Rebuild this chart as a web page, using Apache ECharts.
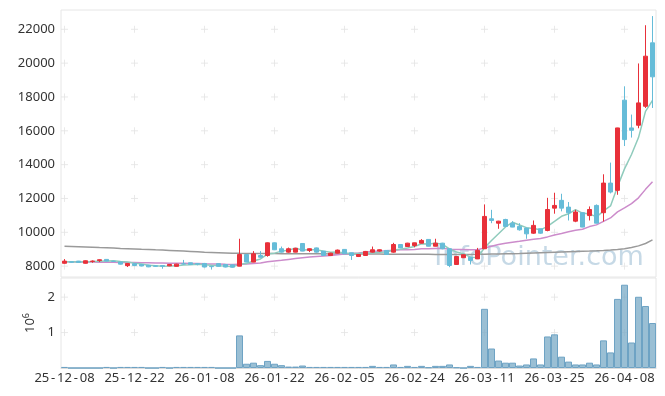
<!DOCTYPE html>
<html><head><meta charset="utf-8">
<script src="https://cdn.jsdelivr.net/npm/echarts@6/dist/echarts.min.js"></script>
<style>html,body{margin:0;padding:0;background:#fff}#c{width:665px;height:396px}</style>
</head><body><div id="c"></div>
<script>
const dates = ['25-12-08','25-12-09','25-12-10','25-12-11','25-12-12','25-12-15','25-12-16','25-12-17','25-12-18','25-12-19',
'25-12-22','25-12-23','25-12-24','25-12-26','25-12-29','25-12-30','26-01-02','26-01-05','26-01-06','26-01-07',
'26-01-08','26-01-09','26-01-12','26-01-13','26-01-14','26-01-15','26-01-16','26-01-19','26-01-20','26-01-21',
'26-01-22','26-01-23','26-01-26','26-01-27','26-01-28','26-01-29','26-01-30','26-02-02','26-02-03','26-02-04',
'26-02-05','26-02-06','26-02-09','26-02-10','26-02-11','26-02-12','26-02-13','26-02-19','26-02-20','26-02-23',
'26-02-24','26-02-25','26-02-26','26-02-27','26-03-03','26-03-04','26-03-05','26-03-06','26-03-09','26-03-10',
'26-03-11','26-03-12','26-03-13','26-03-16','26-03-17','26-03-18','26-03-19','26-03-20','26-03-23','26-03-24',
'26-03-25','26-03-26','26-03-27','26-03-30','26-03-31','26-04-01','26-04-02','26-04-03','26-04-06','26-04-07',
'26-04-08','26-04-09','26-04-10','26-04-13','26-04-14'];

const opens = [8170,8260,8300,8170,8280,8330,8400,8290,8250,8030,
8150,8100,8060,8020,8040,8020,7990,8140,8200,8150,
8160,7990,8150,8100,8080,8000,8690,8240,8630,8630,
9380,9030,8830,8830,9340,8930,9080,8890,8630,8770,
8990,8790,8570,8630,8830,8890,8930,8830,9280,9160,
9220,9360,9580,9180,9360,9030,8100,8500,8530,8430,
9030,10800,10540,10760,10540,10350,10250,9950,10210,10110,
11430,11890,11490,10660,11160,10990,11590,11160,12910,12480,
17810,16170,16330,17450,21200];
const closes = [8300,8230,8220,8320,8300,8380,8300,8280,8120,8160,
8040,8010,7960,7990,7990,8100,8120,8130,8100,8120,
7950,7970,7990,7950,7940,8690,8240,8730,8530,9380,
8970,8830,9030,9060,8890,9030,8830,8630,8770,8950,
8730,8630,8690,8870,8970,8970,8690,9280,9080,9360,
9380,9520,9180,9360,9030,8040,8570,8675,8340,8930,
10940,10700,10660,10350,10310,10150,9910,10410,9950,11350,
11590,11430,11160,11200,10310,11350,10540,12910,12380,16170,
15480,16030,17650,20410,19190];
const lows = [8150,8200,8200,8150,8200,8250,8290,8260,8100,7950,
8000,7990,7940,7960,7850,8000,7980,8100,8080,8050,
7930,7800,7980,7930,7920,7990,8230,8230,8500,8560,
8950,8800,8800,8820,8880,8830,8800,8600,8600,8750,
8720,8370,8540,8620,8800,8850,8680,8800,9060,9140,
9120,9350,9170,9170,9000,7940,8090,8480,8100,8420,
9020,10540,10210,10340,10300,10100,9620,9910,9910,10060,
11100,11240,10700,10600,10300,10700,10530,10640,12300,12220,
15100,15600,16150,17350,17350];
const highs = [8420,8280,8310,8340,8340,8400,8410,8320,8260,8180,
8170,8120,8080,8040,8060,8120,8140,8370,8210,8180,
8180,8000,8160,8110,8090,9620,8700,8890,8890,9400,
9400,9160,9100,9080,9350,9050,9100,8900,8790,8980,
9000,8800,8700,8900,9160,8990,8950,9380,9300,9380,
9390,9600,9590,9620,9380,9040,8580,8690,8540,9080,
11650,11330,10680,10800,10660,10540,10260,10700,10220,12040,
12340,12280,11790,11330,11170,11530,11650,13430,14120,16180,
18630,16960,19980,22240,22780];

const ma5 = [8260,8255,8250,8265,8274,8290,8304,8316,8276,8248,
8180,8122,8058,8032,7998,8010,8032,8066,8088,8114,
8084,8054,8026,8004,7960,8108,8162,8310,8426,8714,
8770,8888,8948,9054,8956,8968,8968,8888,8830,8842,
8782,8742,8754,8774,8778,8826,8838,8956,8998,9076,
9158,9324,9304,9360,9294,9026,8836,8735,8531,8511,
9091,9517,9914,10316,10592,10434,10276,10226,10146,10354,
10642,10946,11096,11346,11138,11090,10912,11262,11560,12700,
13750,14600,15600,17150,17800];
const ma20 = [8260,8255,8250,8245,8240,8236,8232,8228,8222,8216,
8210,8204,8198,8192,8186,8180,8175,8170,8165,8160,
8145,8135,8125,8110,8100,8120,8125,8160,8190,8260,
8310,8350,8400,8450,8495,8540,8575,8600,8635,8675,
8715,8750,8785,8830,8880,8895,8915,8945,8970,8970,
8990,9025,9035,9050,9055,9005,8990,8990,8970,8970,
9080,9180,9280,9350,9420,9475,9535,9590,9630,9730,
9840,9930,10030,10120,10180,10340,10440,10650,10850,11210,
11440,11700,12040,12540,12990];
const ma120 = [9180,9165,9150,9135,9120,9100,9085,9070,9050,9035,
9020,9000,8985,8965,8950,8930,8910,8890,8870,8850,
8830,8815,8800,8785,8770,8762,8756,8752,8748,8745,
8742,8740,8738,8736,8734,8732,8730,8728,8726,8724,
8722,8720,8718,8716,8714,8712,8710,8708,8706,8704,
8702,8700,8698,8696,8695,8694,8694,8695,8697,8700,
8705,8712,8720,8730,8740,8752,8765,8778,8792,8806,
8820,8835,8850,8865,8880,8895,8912,8932,8955,8985,
9030,9100,9200,9340,9550];
const volumes = [30000,0,0,0,0,0,30000,0,30000,30000,
30000,30000,0,0,30000,0,30000,30000,30000,30000,
30000,30000,0,0,0,920000,120000,150000,80000,200000,
120000,80000,40000,40000,70000,30000,30000,30000,30000,30000,
30000,30000,30000,30000,60000,30000,30000,100000,30000,60000,
30000,60000,20000,60000,60000,100000,20000,0,60000,30000,
1670000,550000,210000,150000,150000,70000,100000,270000,100000,890000,
950000,320000,180000,100000,100000,150000,100000,780000,440000,1950000,
2350000,720000,2010000,1750000,1270000];

const priceTicks = [8000,10000,12000,14000,16000,18000,20000,22000];
const volumeTicks = [1000000,2000000];
const labelEvery = 10;

const FONT = 'Noto Sans';
const candleData = dates.map((d,i)=>[opens[i],closes[i],lows[i],highs[i]]);
const tickIdx = dates.map((d,i)=>i).filter(i=>i%labelEvery===0);
const crossMain = [], crossVol = [];
tickIdx.forEach(i=>{ priceTicks.forEach(v=>crossMain.push([i,v])); volumeTicks.forEach(v=>crossVol.push([i,v])); });
const crossSym = 'path://M0,3.5H7M3.5,0V7';

const chart = echarts.init(document.getElementById('c'), null, {renderer:'canvas'});
chart.setOption({
  animation:false,
  backgroundColor:'#fff',
  textStyle:{fontFamily:FONT},
  grid:[
    {left:61,right:9,top:10,height:267,show:true,borderColor:'#e6e6e6',borderWidth:1,backgroundColor:'transparent'},
    {left:61,right:9,top:278,height:90,show:true,borderColor:'#e6e6e6',borderWidth:1,backgroundColor:'transparent'}
  ],
  graphic:[{type:'text',x:539,y:258,z:0,silent:true,
    style:{text:'InfoPointer.com',font:'27px "DejaVu Sans"',fill:'#c6d9e6',align:'center',verticalAlign:'middle'}}],
  xAxis:[
    {type:'category',gridIndex:0,data:dates,boundaryGap:true,axisLine:{show:false},axisTick:{show:false},axisLabel:{show:false},splitLine:{show:false}},
    {type:'category',gridIndex:1,data:dates,boundaryGap:true,axisLine:{show:true,lineStyle:{color:'#dcdcdc'}},axisTick:{show:false},
     axisLabel:{interval:labelEvery-1,fontSize:13,color:'#333',fontFamily:FONT,margin:4,
       formatter:v=>v.split('-').join('{h|-}'),
       rich:{h:{fontSize:13,color:'#333',fontFamily:FONT,padding:[0,1.8]}}},
     splitLine:{show:false}}
  ],
  yAxis:[
    {type:'value',gridIndex:0,min:7360,max:23140,splitNumber:7,axisLine:{show:false},axisTick:{show:false},splitLine:{show:false},
     axisLabel:{customValues:priceTicks,fontSize:13,color:'#333',fontFamily:FONT,margin:6,
       formatter:v=>(priceTicks.indexOf(v)>=0?String(v):'')}},
    {type:'value',gridIndex:1,min:0,max:2540000,interval:1000000,axisLine:{show:false},axisTick:{show:false},splitLine:{show:false},
     axisLabel:{fontSize:13,color:'#333',fontFamily:FONT,margin:6,formatter:v=>(volumeTicks.indexOf(v)>=0?String(v/1000000):'')},
     name:'{a|10}{b|6}',nameLocation:'middle',nameRotate:90,nameGap:18,
     nameTextStyle:{rich:{a:{fontSize:13,color:'#333',fontFamily:FONT},b:{fontSize:9,color:'#333',fontFamily:FONT,padding:[0,0,8,0]}}}}
  ],
  series:[
    {type:'scatter',xAxisIndex:0,yAxisIndex:0,data:crossMain,symbol:crossSym,symbolSize:7,silent:true,z:0,
     itemStyle:{color:'none',borderColor:'#e3e3e3',borderWidth:1}},
    {type:'scatter',xAxisIndex:1,yAxisIndex:1,data:crossVol,symbol:crossSym,symbolSize:7,silent:true,z:0,
     itemStyle:{color:'none',borderColor:'#e3e3e3',borderWidth:1}},
    {type:'line',xAxisIndex:0,yAxisIndex:0,data:ma120,showSymbol:false,lineStyle:{color:'#9a9a9a',width:1.5},z:3},
    {type:'line',xAxisIndex:0,yAxisIndex:0,data:ma20,showSymbol:false,lineStyle:{color:'#cc8ccb',width:1.5},z:3},
    {type:'line',xAxisIndex:0,yAxisIndex:0,data:ma5,showSymbol:false,lineStyle:{color:'#8fcbbc',width:1.5},z:3},
    {type:'candlestick',xAxisIndex:0,yAxisIndex:0,data:candleData,barWidth:5,z:4,
     itemStyle:{color:'#e8303a',color0:'#66bcd8',borderColor:'#e8303a',borderColor0:'#66bcd8',borderWidth:1}},
    {type:'bar',xAxisIndex:1,yAxisIndex:1,data:volumes,barCategoryGap:'0%',
     itemStyle:{color:'rgba(120,170,198,0.75)',borderColor:'#6ea3c4',borderWidth:1}}
  ]
});
</script></body></html>
